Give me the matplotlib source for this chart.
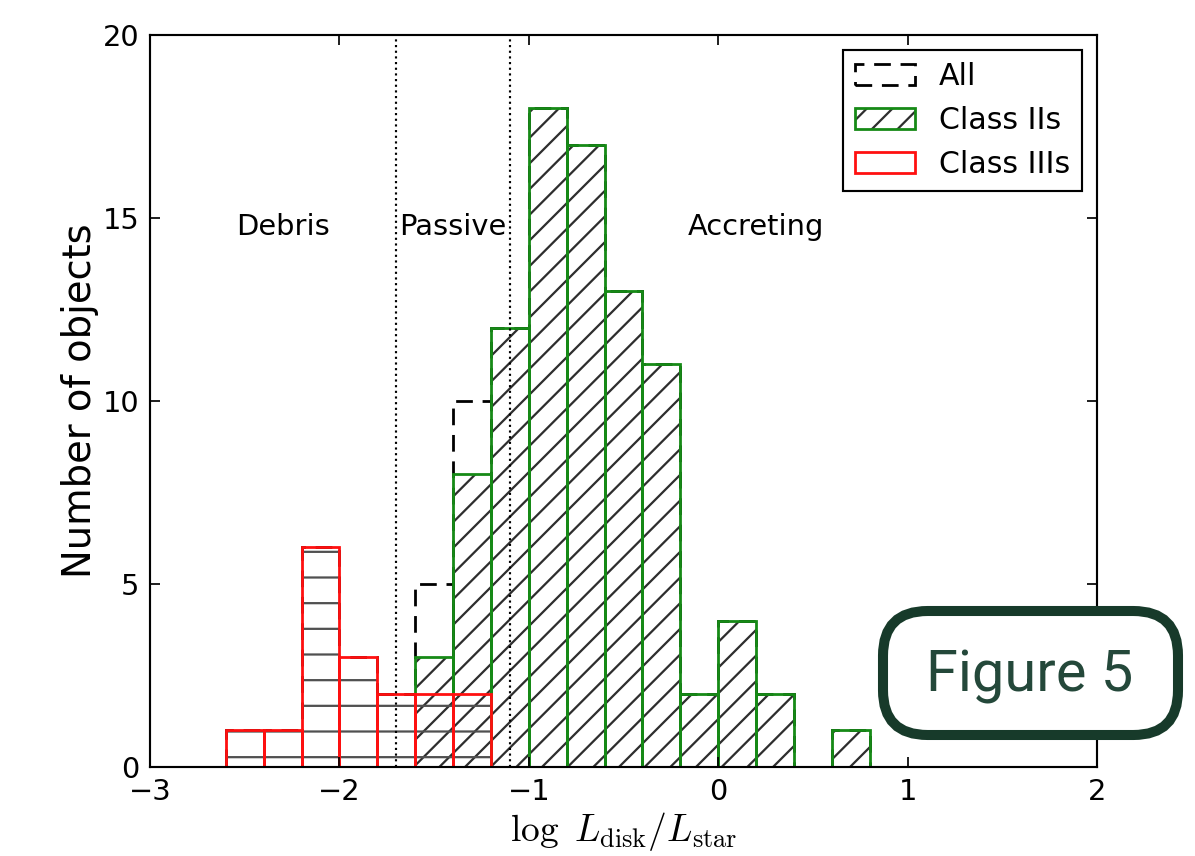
import numpy as np
import matplotlib
matplotlib.use('Agg')
import matplotlib.pyplot as plt
from matplotlib.patches import Patch, FancyBboxPatch
from matplotlib.legend_handler import HandlerTuple

# ---------------- data ----------------
bin_left = [-3.0, -2.8, -2.6, -2.4, -2.2, -2.0, -1.8, -1.6, -1.4, -1.2, -1.0,
            -0.8, -0.6, -0.4, -0.2, 0.0, 0.2, 0.4, 0.6, 0.8, 1.0, 1.2, 1.4,
            1.6, 1.8]
bin_width = 0.2
counts_all = [0, 0, 1, 1, 6, 3, 2, 5, 10, 12, 18, 17, 13, 11, 2, 4, 2, 0, 1,
              0, 0, 0, 0, 0, 0]
counts_class2 = [0, 0, 0, 0, 0, 0, 0, 3, 8, 12, 18, 17, 13, 11, 2, 4, 2, 0, 1,
                 0, 0, 0, 0, 0, 0]
counts_class3 = [0, 0, 1, 1, 6, 3, 2, 2, 2, 0, 0, 0, 0, 0, 0, 0, 0, 0, 0,
                 0, 0, 0, 0, 0, 0]
boundaries = [-1.7, -1.1]
region_labels = ['Debris', 'Passive', 'Accreting']
region_x = [-2.3, -1.4, 0.2]
region_y = 14.75
legend_labels = ['All', 'Class IIs', 'Class IIIs']
xticks = [-3, -2, -1, 0, 1, 2]
yticks = [0, 5, 10, 15, 20]

# ---------------- style ----------------
plt.rcParams['font.family'] = ['DejaVu Sans']
plt.rcParams['mathtext.fontset'] = 'cm'
plt.rcParams['hatch.linewidth'] = 1.05
plt.rcParams['axes.unicode_minus'] = True

DPI = 154
fig = plt.figure(figsize=(1195 / DPI, 856 / DPI), dpi=DPI)
ax = fig.add_axes([150 / 1195, 1 - 767 / 856, 947 / 1195, 732 / 856])

lw = 1.3
dash = (0, (6, 3.5))
green = '#168a16'
red = '#ff1010'
hatch2 = '#2e2e2e'
hatch3 = '#505050'

ax.bar(bin_left, counts_all, width=bin_width, align='edge', fill=False,
       edgecolor='k', linestyle=dash, linewidth=lw)
ax.bar(bin_left, counts_class2, width=bin_width, align='edge', fill=False,
       edgecolor=hatch2, hatch='//', linewidth=0)
ax.bar(bin_left, counts_class2, width=bin_width, align='edge', fill=False,
       edgecolor=green, linewidth=lw)
ax.bar(bin_left, counts_class3, width=bin_width, align='edge', fill=False,
       edgecolor=hatch3, hatch='-', linewidth=0)
ax.bar(bin_left, counts_class3, width=bin_width, align='edge', fill=False,
       edgecolor=red, linewidth=lw)

for b in boundaries:
    ax.axvline(b, color='k', linestyle=':', linewidth=1.0)

for lab, x in zip(region_labels, region_x):
    ax.text(x, region_y, lab, ha='center', va='center', fontsize=13.5)

ax.set_xlim(-3, 2)
ax.set_ylim(0, 20)
ax.set_xticks(xticks)
ax.set_yticks(yticks)
ax.tick_params(direction='in', top=True, right=True, length=4.5, width=0.8,
               labelsize=13.5, pad=5)
for s in ax.spines.values():
    s.set_linewidth(1.0)

ax.set_xlabel(r'$\log\ L_{\rm disk}/L_{\rm star}$', fontsize=17.5, labelpad=2)
ax.set_ylabel('Number of objects', fontsize=18, labelpad=1.5)

handles = [
    Patch(fill=False, edgecolor='k', linestyle=dash, linewidth=lw),
    (Patch(fill=False, edgecolor=hatch2, hatch='//', linewidth=0),
     Patch(fill=False, edgecolor=green, linewidth=lw)),
    Patch(fill=False, edgecolor=red, linewidth=lw),
]
leg = ax.legend(handles, legend_labels, loc='upper right', fontsize=14,
                fancybox=False, framealpha=1, edgecolor='k',
                handler_map={tuple: HandlerTuple(ndivide=1, pad=0)})
leg.get_frame().set_linewidth(1.0)

# badge
badge = FancyBboxPatch((883 / DPI, 121 / DPI), 295 / DPI, 124 / DPI,
                       boxstyle='round,pad=0,rounding_size=0.29',
                       transform=fig.dpi_scale_trans, facecolor='white',
                       edgecolor='#173a2a', linewidth=4.7, zorder=10)
fig.add_artist(badge)
fig.text(1030 / 1195, 1 - 692 / 856, 'Figure 5', fontsize=27,
         color='#24483a', ha='center', va='baseline', family='Roboto',
         fontweight='normal', zorder=11)

fig.savefig('out.png', dpi=DPI)
